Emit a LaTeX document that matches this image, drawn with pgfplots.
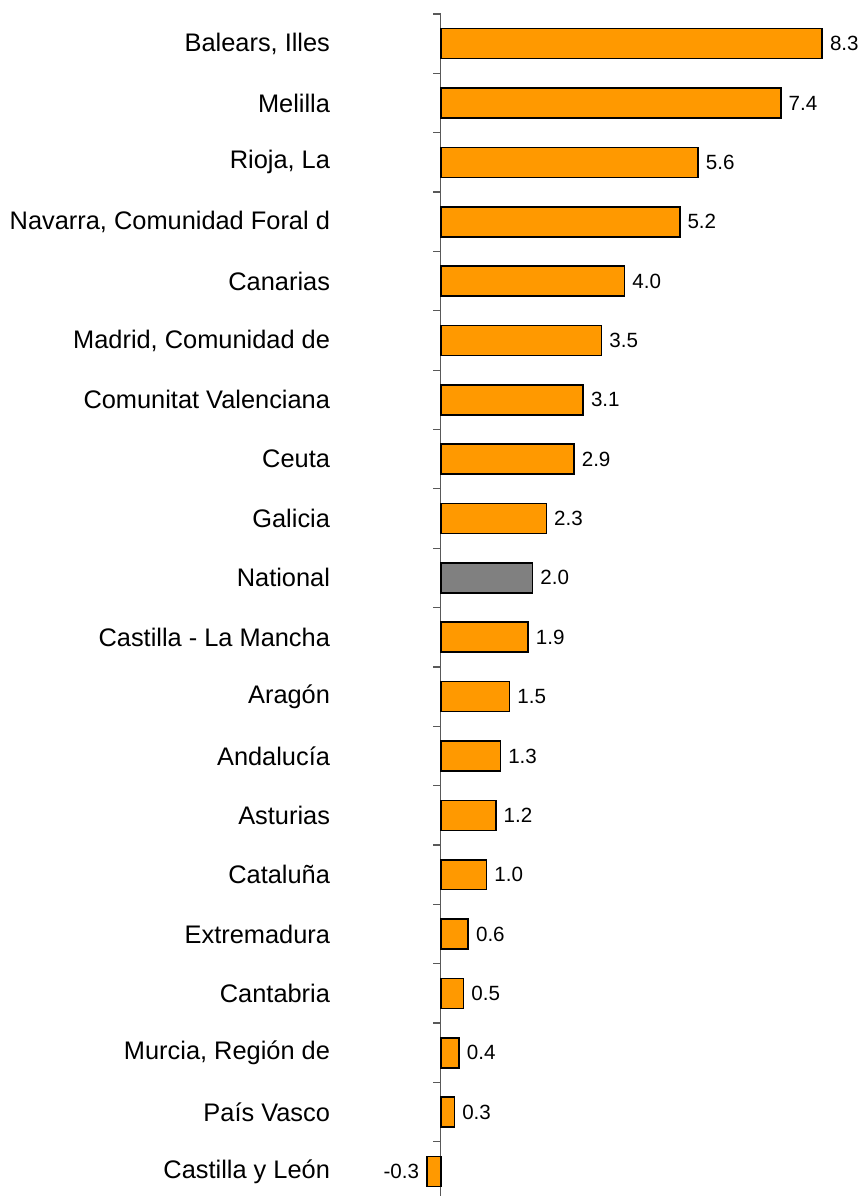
\documentclass[border=0pt]{standalone}
\usepackage{fontspec}
\setmainfont{Liberation Sans}
\usepackage{pgfplots}
\pgfplotsset{compat=1.18}
\definecolor{barorange}{HTML}{FF9900}
\definecolor{bargrey}{HTML}{808080}
\begin{document}
\begin{tikzpicture}
\begin{axis}[
  at={(0,0)}, anchor=south west,
  scale only axis,
  width=259.9pt, height=598.6pt,
  xmin=-2.4, xmax=8.9,
  ymin=-0.736, ymax=19.42,
  y dir=reverse,
  enlargelimits=false,
  xbar, bar width=15pt, bar shift=0pt,
  axis line style={draw=none},
  xtick=\empty,
  ytick={0,...,19},
  yticklabels={{Balears, Illes},Melilla,{Rioja, La},{Navarra, Comunidad Foral d},Canarias,{Madrid, Comunidad de},Comunitat Valenciana,Ceuta,Galicia,National,Castilla - La Mancha,Aragón,Andalucía,Asturias,Cataluña,Extremadura,Cantabria,{Murcia, Región de},País Vasco,Castilla y León},
  major tick length=0pt,
  ytick style={draw=none},
  yticklabel style={inner sep=0pt, font=\fontsize{12.7}{15}\selectfont},
  clip=false,
  /pgf/number format/assume math mode=true,
  point meta=x,
  nodes near coords={\pgfmathprintnumber[fixed,fixed zerofill,precision=1]{\pgfplotspointmeta}},
  nodes near coords align=horizontal,
  every node near coord/.append style={font=\fontsize{10.3}{12}\selectfont, inner xsep=3.5pt, inner ysep=0pt, text=black},
]
\draw[black!65, line width=0.6pt] (axis cs:0,-0.5) -- (axis cs:0,19.42);
\pgfplotsinvokeforeach{-0.5,0.5,1.5,2.5,3.5,4.5,5.5,6.5,7.5,8.5,9.5,10.5,11.5,12.5,13.5,14.5,15.5,16.5,17.5,18.5}{
  \draw[black!65, line width=0.6pt] (axis cs:0,#1) -- ([xshift=-4pt]axis cs:0,#1);
}
\addplot[draw=black, line width=0.8pt, fill=barorange] coordinates {
  (8.3,0) (7.4,1) (5.6,2) (5.2,3) (4.0,4) (3.5,5) (3.1,6) (2.9,7) (2.3,8)
  (1.9,10) (1.5,11) (1.3,12) (1.2,13) (1.0,14) (0.6,15) (0.5,16) (0.4,17) (0.3,18) (-0.3,19)
};
\addplot[draw=black, line width=0.8pt, fill=bargrey] coordinates {
  (2.0,9)
};
\end{axis}
\path (-165.3pt,0) rectangle (266.7pt,598.6pt);
\end{tikzpicture}
\end{document}
